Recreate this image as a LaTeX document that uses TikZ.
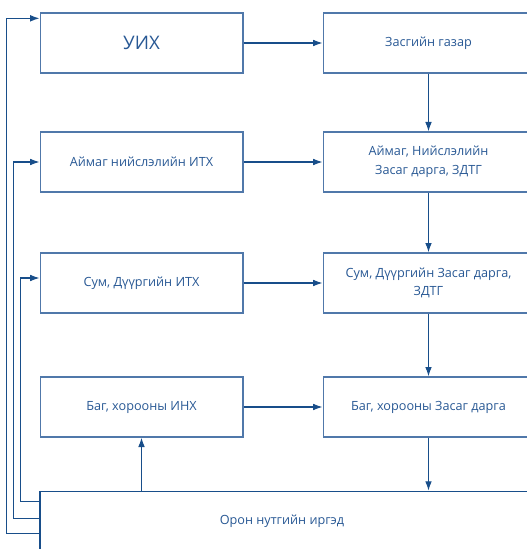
\documentclass[tikz,border=0pt]{standalone}
\usepackage{fontspec}
\setmainfont{Open Sans}
\usetikzlibrary{arrows.meta, positioning, calc}
\definecolor{LineBlue}{RGB}{24, 78, 138}
\definecolor{BoxBlue}{RGB}{80, 120, 170}
\definecolor{TextBlue}{RGB}{40, 88, 148}

\begin{document}
\begin{tikzpicture}[
        x=0.75pt, y=-0.75pt,
        >={Latex[length=7pt, width=5pt]},
        box/.style={draw=BoxBlue, line width=1pt, minimum width=152pt, minimum height=45pt, inner sep=2pt,
                    align=center, text=TextBlue, font=\fontsize{9.5}{14}\selectfont},
        rbox/.style={box, minimum width=158pt},
        link/.style={->, line width=0.85pt, LineBlue}
    ]
    \useasboundingbox (0,0) rectangle (526,549);

    % Left column
    \node[box, font=\fontsize{14}{16}\selectfont] (uih) at (141.5, 43) {УИХ};
    \node[box] (aimagith) at (141.5, 162) {Аймаг нийслэлийн ИТХ};
    \node[box] (sumith) at (141.5, 283) {Сум, Дүүргийн ИТХ};
    \node[box] (baginh) at (141.5, 407) {Баг, хорооны ИНХ};

    % Right column (cut by the right margin)
    \node[rbox] (zasgiin) at (428.5, 43) {Засгийн газар};
    \node[rbox] (aimagzd) at (428.5, 162) {Аймаг, Нийслэлийн\\Засаг дарга, ЗДТГ};
    \node[rbox] (sumzd) at (428.5, 283) {Сум, Дүүргийн Засаг дарга,\\ЗДТГ};
    \node[rbox] (bagzd) at (428.5, 407) {Баг, хорооны Засаг дарга};

    % Bottom
    \node[draw=LineBlue, line width=1pt, minimum width=390pt, minimum height=52pt] (irged) at (300, 526) {};
    \node[text=TextBlue, font=\fontsize{9.5}{14}\selectfont] (irgedlbl) at (282, 521) {Орон нутгийн иргэд};

    % Horizontal links
    \draw[link] (uih.east) -- (zasgiin.west);
    \draw[link] (aimagith.east) -- (aimagzd.west);
    \draw[link] (sumith.east) -- (sumzd.west);
    \draw[link] (baginh.east) -- (bagzd.west);

    % Vertical links
    \draw[link] (zasgiin.south) -- (aimagzd.north);
    \draw[link] (aimagzd.south) -- (sumzd.north);
    \draw[link] (sumzd.south) -- (bagzd.north);
    \draw[link] (bagzd.south) -- (bagzd.south |- irged.north);
    \draw[link] (baginh.south |- irged.north) -- (baginh.south);

    % Feedback lines on the left
    \coordinate (out1) at ($(irged.north west)+(0,43)$);
    \coordinate (out2) at ($(irged.north west)+(0,28)$);
    \coordinate (out3) at ($(irged.north west)+(0,11)$);
    \draw[link] (out1) -- ++(-33,0) |- ($(uih.north west)+(0,6)$);
    \draw[link] (out2) -- ++(-26,0) |- (aimagith.west);
    \draw[link] (out3) -- ++(-19,0) |- ($(sumith.west)+(0,-5)$);

\end{tikzpicture}
\end{document}
